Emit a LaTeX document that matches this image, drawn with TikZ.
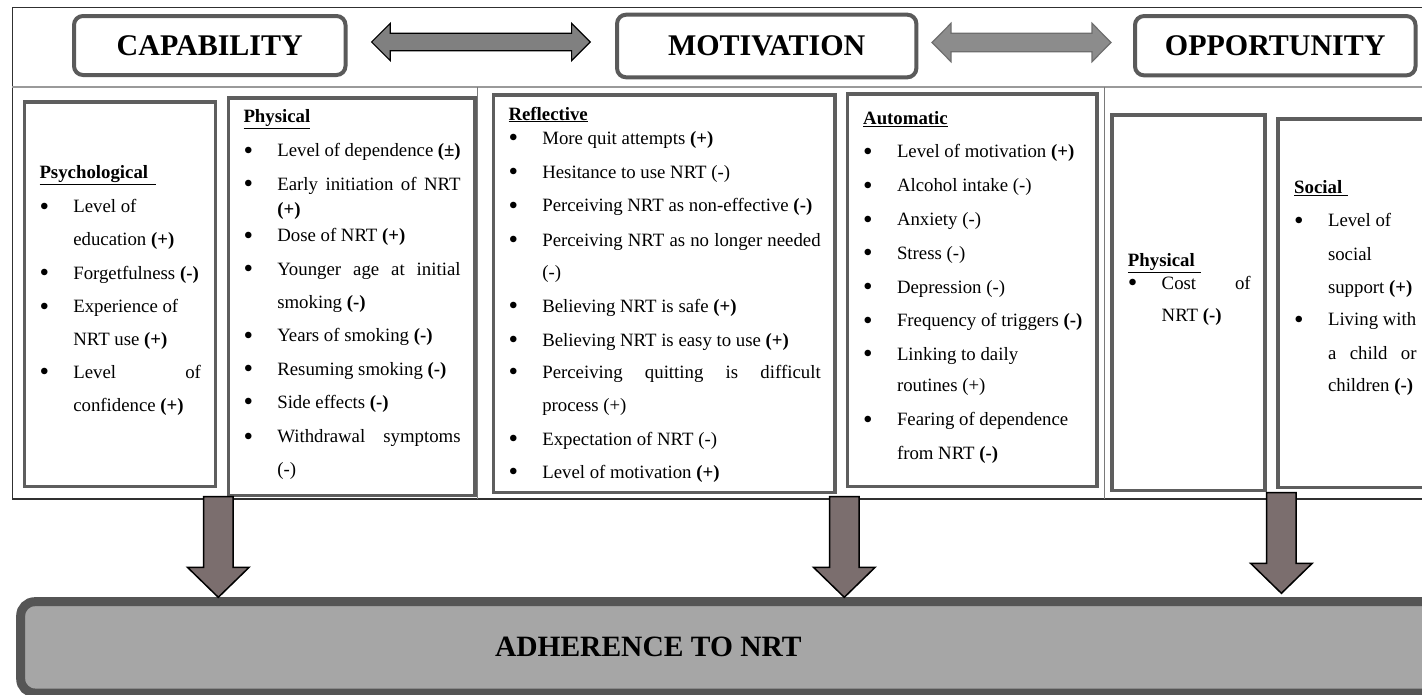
\documentclass[tikz,border=0pt]{standalone}
\usepackage{fontspec}
\setmainfont{Liberation Serif}
\usepackage{xcolor}
\usepackage{graphicx}
\usepackage{tikz}
\usetikzlibrary{calc}

\definecolor{framegray}{HTML}{303030}
\definecolor{linegray}{HTML}{9A9A9A}
\definecolor{divgray}{HTML}{7A7A7A}
\definecolor{titlegray}{HTML}{5A5A5A}
\definecolor{boxgray}{HTML}{5E5E5E}
\definecolor{arrowgray}{HTML}{808080}
\definecolor{arrowlight}{HTML}{8C8C8C}
\definecolor{arrowedge}{HTML}{6E6E6E}
\definecolor{downfill}{HTML}{7B6E6E}
\definecolor{adhfill}{HTML}{A6A6A6}
\definecolor{adhedge}{HTML}{555555}

\newcommand{\bul}{\makebox[33.8pt][l]{\raisebox{-0.13em}{\scalebox{1.45}{\textbullet}}}}
\newcommand{\cont}{\hspace*{33.8pt}}
\newcommand{\spreadline}[2]{\makebox[#1][s]{#2}}
\newcommand{\listhead}[1]{\underline{\textbf{#1}}}

\tikzset{
  titlebox/.style={draw=titlegray, line width=4pt, rounded corners=9pt, fill=white,
    inner sep=0pt, font=\fontsize{30}{36}\selectfont\bfseries},
  listbox/.style={draw=boxgray, line width=3.5pt},
  listline/.style={anchor=base west, inner sep=0pt, font=\fontsize{18.8}{22}\selectfont},
  adhbox/.style={draw=adhedge, fill=adhfill, line width=9pt, rounded corners=14pt, inner sep=0pt},
  downarrow/.style={fill=downfill, draw=black, line width=1.5pt, line join=miter},
}

\begin{document}
\begin{tikzpicture}[x=1pt, y=-1pt]
\useasboundingbox (0,0) rectangle (1422,694);
\clip (0,0) rectangle (1422,694);
\fill[white] (0,0) rectangle (1422,694);

% Frame of the three components
\draw[framegray, line width=1.3pt] (12.3,7.3) rectangle (1440,499);
\draw[linegray, line width=1.8pt] (12.3,87.3) -- (1440,87.3);
\draw[divgray, line width=1pt] (477.7,87.3) -- (477.7,499);
\draw[divgray, line width=1pt] (1104,87.3) -- (1104,499);

% COM-B headings
\node[titlebox, minimum width=271.5pt, minimum height=59pt] (cap) at (209.75,45.5) {CAPABILITY};
\node[titlebox, minimum width=299.3pt, minimum height=62.6pt] (mot) at (766.7,46) {MOTIVATION};
\node[titlebox, minimum width=280.5pt, minimum height=59.3pt] (opp) at (1275.25,45.7) {OPPORTUNITY};

% Double arrows between the headings
\coordinate (cm-l) at (371.6,42);
\coordinate (cm-r) at (590.3,42);
\coordinate (mo-l) at (932,42.5);
\coordinate (mo-r) at (1111,42.5);
\filldraw[fill=arrowgray, draw=black, line width=1.2pt] (cm-l) -- ++(18.7,-18.7) -- ++(0,10)
  -- ($(cm-r)+(-18.7,-8.7)$) -- ++(0,-10) -- (cm-r) -- ++(-18.7,18.7) -- ++(0,-10)
  -- ($(cm-l)+(18.7,8.7)$) -- ++(0,10) -- cycle;
\filldraw[fill=arrowlight, draw=arrowedge, line width=1.2pt] (mo-l) -- ++(19,-19.2) -- ++(0,10)
  -- ($(mo-r)+(-19,-9.2)$) -- ++(0,-10) -- (mo-r) -- ++(-19,19.2) -- ++(0,-10)
  -- ($(mo-l)+(19,9.2)$) -- ++(0,10) -- cycle;

% Factor boxes
\draw[listbox] (24.5,101.8) rectangle (215.5,486.5);
\draw[listbox] (228.5,97.8) rectangle (475,495.5);
\draw[listbox] (493.5,95) rectangle (835.2,492.5);
\draw[listbox] (847.4,94) rectangle (1097,486.5);
\draw[listbox] (1111.8,115) rectangle (1265.2,490.5);
\draw[listbox] (1277.8,119) rectangle (1435,487.5);

% Capability: psychological
\foreach \y/\txt [count=\i] in {
  178.3/{\listhead{Psychological\hspace{8pt}}},
  212.7/{\bul Level of},
  245/{\cont education \textbf{(+)}},
  279.3/{\bul Forgetfulness \textbf{(-)}},
  312.7/{\bul Experience of},
  345/{\cont NRT use \textbf{(+)}},
  378.3/{\bul\spreadline{127.7pt}{Level of}},
  411.7/{\cont confidence \textbf{(+)}}}
  \node[listline] (psy-\i) at (39.3,\y) {\txt};

% Capability: physical
\foreach \y/\txt [count=\i] in {
  122.7/{\listhead{Physical}},
  156.7/{\bul\spreadline{183.3pt}{Level of dependence \textbf{(±)}}},
  190/{\bul\spreadline{183.3pt}{Early initiation of NRT}},
  215/{\cont\textbf{(+)}},
  241.7/{\bul Dose of NRT \textbf{(+)}},
  275/{\bul\spreadline{183.3pt}{Younger age at initial}},
  308.3/{\cont smoking \textbf{(-)}},
  341.7/{\bul Years of smoking \textbf{(-)}},
  375/{\bul Resuming smoking \textbf{(-)}},
  408.3/{\bul Side effects \textbf{(-)}},
  442.7/{\bul\spreadline{183.3pt}{Withdrawal symptoms}},
  475/{\cont(-)}}
  \node[listline] (phy-\i) at (243.3,\y) {\txt};

% Motivation: reflective
\foreach \y/\txt [count=\i] in {
  120/{\listhead{Reflective}},
  144.3/{\bul More quit attempts \textbf{(+)}},
  178.3/{\bul Hesitance to use NRT (-)},
  211.7/{\bul Perceiving NRT as non-effective \textbf{(-)}},
  246/{\bul\spreadline{278.4pt}{Perceiving NRT as no longer needed}},
  278.3/{\cont(-)},
  312.3/{\bul Believing NRT is safe \textbf{(+)}},
  346/{\bul Believing NRT is easy to use \textbf{(+)}},
  378.3/{\bul\spreadline{278.4pt}{Perceiving quitting is difficult}},
  411/{\cont process (+)},
  445/{\bul Expectation of NRT (-)},
  478.3/{\bul Level of motivation \textbf{(+)}}}
  \node[listline] (ref-\i) at (508.3,\y) {\txt};

% Motivation: automatic
\foreach \y/\txt [count=\i] in {
  124.3/{\listhead{Automatic}},
  157.7/{\bul Level of motivation \textbf{(+)}},
  191.7/{\bul Alcohol intake (-)},
  225.7/{\bul Anxiety (-)},
  259/{\bul Stress (-)},
  293.3/{\bul Depression (-)},
  326.7/{\bul Frequency of triggers \textbf{(-)}},
  360/{\bul Linking to daily},
  391.7/{\cont routines (+)},
  425.7/{\bul Fearing of dependence},
  459/{\cont from NRT \textbf{(-)}}}
  \node[listline] (aut-\i) at (863,\y) {\txt};

% Opportunity: physical
\foreach \y/\txt [count=\i] in {
  266.7/{\listhead{Physical\hspace{6pt}}},
  289/{\bul\spreadline{89pt}{Cost of}},
  321/{\cont NRT \textbf{(-)}}}
  \node[listline] (oph-\i) at (1127.7,\y) {\txt};

% Opportunity: social
\foreach \y/\txt [count=\i] in {
  193.3/{\listhead{Social\hspace{6pt}}},
  226.7/{\bul Level of},
  260/{\cont social},
  293.3/{\cont support \textbf{(+)}},
  325.7/{\bul Living with},
  359/{\cont\spreadline{88.6pt}{a child or}},
  391/{\cont children \textbf{(-)}}}
  \node[listline] (soc-\i) at (1294,\y) {\txt};

% Outcome
\node[adhbox, anchor=north west, minimum width=1430pt, minimum height=91.3pt] (adh) at (16.2,597.2) {};
\node[anchor=base, inner sep=0pt, font=\fontsize{29.5}{35}\selectfont\bfseries] (adhlabel) at (648.3,656) {ADHERENCE TO NRT};

% Arrows into adherence
\foreach \n/\x/\top/\tip in {cap/218.3/496.7/597.3, mot/844.3/496.7/597.3, opp/1281.4/492.7/593.3} {
  \coordinate (\n-foot) at (\x,\top);
  \coordinate (\n-tip) at (\x,\tip);
  \filldraw[downarrow] ($(\n-foot)+(-14.8,0)$) -- ++(29.6,0) -- ($(\n-tip)+(14.8,-30)$) -- ++(16,0)
    -- (\n-tip) -- ++(-30.8,-30) -- ++(16,0) -- cycle;
}

\end{tikzpicture}
\end{document}
